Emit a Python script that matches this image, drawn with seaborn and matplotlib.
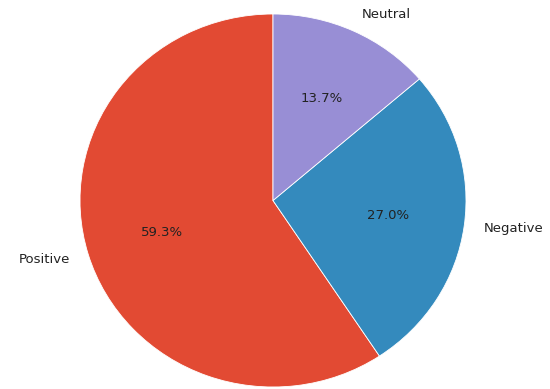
import matplotlib
matplotlib.use("Agg")
import matplotlib.pyplot as plt
import seaborn as sns

# === Data
labels = ["Positive", "Negative", "Neutral"]
shares = [59.3, 27.0, 13.7]
colors = ["#E24A33", "#348ABD", "#988ED5"]

# === Style
sns.set_style("white")
plt.rcParams["font.family"] = ["DejaVu Sans"]
palette = sns.color_palette(colors)

fig = plt.figure(figsize=(5.5, 3.89), dpi=100)
# pie centre ~ (273, 200.5) px from top-left; slightly squashed: rx ~193, ry ~186.5
cx, cy = 273, 200.5
rx, ry = 193, 186.5
lim = 1.1
w = 2 * lim * rx
h = 2 * lim * ry
ax = fig.add_axes([(cx - w / 2) / 550, (389 - cy - h / 2) / 389, w / 550, h / 389])

ax.pie(shares, labels=labels, colors=palette, autopct="%1.1f%%", startangle=90,
       wedgeprops=dict(edgecolor="white", linewidth=0.6),
       textprops=dict(fontsize=9.5, color="#222222"))
ax.set_xlim(-lim, lim)
ax.set_ylim(-lim, lim)
ax.set_aspect("auto")
ax.axis("off")

fig.savefig("out.png", dpi=100)
